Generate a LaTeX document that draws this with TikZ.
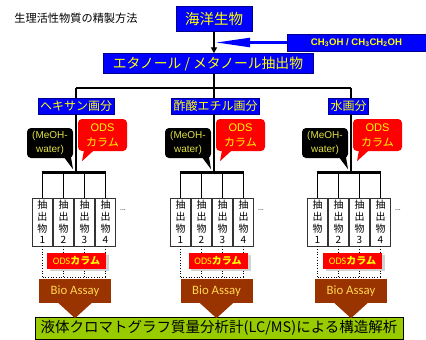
\documentclass[tikz,border=0pt]{standalone}
\usepackage{fontspec}
\setmainfont{Liberation Sans}
\newfontfamily\jp{Noto Sans CJK JP}
\newfontfamily\calfont{Carlito}
\usetikzlibrary{arrows.meta}
\definecolor{mblue}{RGB}{0,0,255}
\definecolor{myel}{RGB}{255,255,0}
\definecolor{mdyel}{RGB}{225,225,70}
\definecolor{mred}{RGB}{255,0,0}
\definecolor{mbrown}{RGB}{153,51,0}
\definecolor{mgreen}{RGB}{153,204,0}
\definecolor{bioyel}{RGB}{255,215,80}
\tikzset{
  bluebox/.style={fill=mblue, draw=blue!55!black, line width=0.5pt, text=myel,
    font=\jp\fontsize{12}{12}\selectfont, inner xsep=2pt, inner ysep=0pt, minimum height=16pt},
  conn/.style={line width=1.4pt},
  barline/.style={line width=2.4pt},
  legline/.style={line width=1.6pt},
  exbox/.style={draw=black!80, fill=white, line width=0.6pt, minimum width=20pt, minimum height=48pt,
    align=center, font=\jp\fontsize{10}{11.8}\selectfont, inner sep=0pt},
  dotl/.style={dotted, line width=0.7pt},
  odsbox/.style={fill=mred, text=myel, minimum width=59pt, minimum height=16pt, inner sep=0pt,
    font=\fontsize{10}{10}\selectfont},
  bio/.style={fill=mbrown, text=bioyel, minimum width=72pt, minimum height=24pt, inner sep=0pt,
    font=\calfont\fontsize{12.8}{12.8}\selectfont},
  blkcall/.style={fill=black, rounded corners=4pt, text=mdyel, minimum width=46pt, minimum height=30pt,
    inner sep=0pt, align=center, font=\fontsize{10}{14.5}\selectfont},
  redcall/.style={fill=mred, rounded corners=4pt, text=myel, minimum width=49pt, minimum height=32pt,
    inner sep=0pt, align=center, font=\fontsize{11}{15}\selectfont},
  greenbox/.style={fill=mgreen, draw=black, line width=0.7pt, minimum width=368pt, minimum height=22pt,
    inner sep=0pt, font=\jp\fontsize{14.5}{14.5}\selectfont},
}
\begin{document}
\begin{tikzpicture}[x=1pt,y=-1pt]
\fill[white] (0,0) rectangle (426,340);
\useasboundingbox (0,0) rectangle (426,340);

\node[font=\jp\fontsize{11.2}{11.2}\selectfont, inner sep=0pt] (title) at (76,18) {生理活性物質の精製方法};
\node[bluebox, font=\jp\fontsize{14.5}{14.5}\selectfont, minimum width=76pt, minimum height=25pt] (sea) at (214,19) {海洋生物};
\node[bluebox, font=\jp\fontsize{13.8}{13.8}\selectfont, minimum width=210pt, minimum height=20pt] (eth) at (208,63.5) {エタノール / メタノール抽出物};
\node[bluebox, font=\bfseries\fontsize{9.6}{9.6}\selectfont, minimum width=139pt, minimum height=17pt] (sol) at (356.5,42.5) {CH\textsubscript{3}OH / CH\textsubscript{3}CH\textsubscript{2}OH};

\coordinate (soltip) at (216,42.5);
\draw[conn, -{Triangle[length=6pt,width=6pt]}] (sea.south) -- (sea.south |- eth.north);
\draw[mblue, line width=2.2pt, -{Triangle[length=34pt,width=9pt]}] (sol.west) -- (soltip);

\coordinate (toph) at (76,88);
\coordinate (tope) at (214,88);
\coordinate (topw) at (351,88);
\draw[conn] (eth.south -| tope) -- (tope);
\draw[conn] (toph) -- (topw);

% green box first
\node[greenbox] (gr) at (219,328) {液体クロマトグラフ質量分析計(LC/MS)による構造解析};

\foreach \c/\dx/\lx/\g/\lab in {76/0/0/h/ヘキサン画分, 214/3.5/1.5/e/酢酸エチル画分, 351/1/-2.5/w/水画分}{
  \coordinate (bar\g) at (\c,172.5);
  \coordinate (dl\g) at (\c,277);
  \node[bluebox] (lab\g) at (\c+\lx,106) {\lab};
  \draw[conn] (top\g) -- (lab\g.north -| top\g);
  \draw[conn] (lab\g.south -| top\g) -- (bar\g);
  % callouts
  \node[blkcall] (bc\g) at (\c-26,143) {(MeOH-\\water)};
  \fill[black] ([xshift=14pt,yshift=1pt]bc\g.south) -- ([xshift=21pt,yshift=1pt]bc\g.south) -- ([xshift=23pt,yshift=-11pt]bc\g.south) -- cycle;
  \node[redcall] (rc\g) at (\c+26.5,135) {ODS\\{\jp カラム}};
  \fill[mred] ([xshift=-18.5pt,yshift=1pt]rc\g.south) -- ([xshift=-8.5pt,yshift=1pt]rc\g.south) -- ([xshift=-20.5pt,yshift=-10pt]rc\g.south) -- cycle;
  % extraction boxes
  \foreach \i in {1,...,4}{
    \node[exbox] (b\g\i) at (\c-54.5+21*\i,222) {抽\\出\\物\\\i};
    \draw[legline] (b\g\i.north |- bar\g) -- (b\g\i.north);
    \draw[dotl] (b\g\i.south) -- (b\g\i.south |- dl\g);
  }
  \draw[barline] ([xshift=-0.8pt]b\g1.north |- bar\g) -- ([xshift=0.8pt]b\g4.north |- bar\g);
  \draw[dotl] (b\g1.south |- dl\g) -- (b\g4.south |- dl\g);
  \node[font=\fontsize{7}{7}\selectfont, inner sep=0pt] (dots\g) at (\c+47,210) {...};
  % ODS column
  \fill[gray!35] (\c+\dx-26.5,254.5) rectangle (\c+\dx+33,270.5);
  \node[odsbox] (ods\g) at (\c+\dx+0.5,261) {{\calfont ODS}{\jp\bfseries カラム}};
  % Bio Assay arrow
  \node[bio] (bio\g) at (\c+\dx-1,291) {Bio Assay};
  \fill[mbrown] ([xshift=-17pt,yshift=0.5pt]bio\g.south) -- ([xshift=17pt,yshift=0.5pt]bio\g.south) -- ([yshift=-15pt]bio\g.south) -- cycle;
}
\end{tikzpicture}
\end{document}
